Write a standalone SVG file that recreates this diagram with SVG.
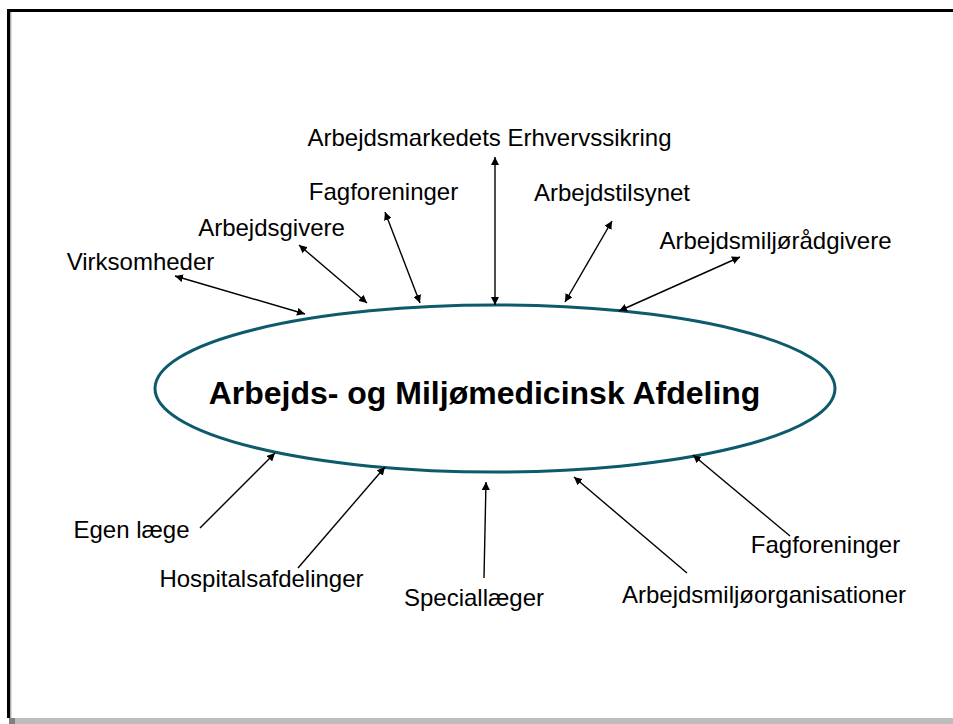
<svg xmlns="http://www.w3.org/2000/svg" width="953" height="724" viewBox="0 0 953 724">
<style>
.lbl{font-family:"Liberation Sans",Arial,sans-serif;font-size:24px;fill:#000;text-anchor:middle}
.title{font-family:"Liberation Sans",Arial,sans-serif;font-size:32px;font-weight:bold;fill:#000;text-anchor:middle}
.conn line{stroke:#000;stroke-width:1.4;fill:none}
.one{marker-end:url(#ah)}
.two{marker-start:url(#ah);marker-end:url(#ah)}
</style>
<defs>
<marker id="ah" viewBox="0 0 10 10" refX="10" refY="5" markerWidth="8" markerHeight="8" markerUnits="userSpaceOnUse" orient="auto-start-reverse">
<path d="M0,0 L10,5 L0,10 Z" fill="#000"/>
</marker>
</defs>
<rect width="953" height="724" fill="#fff"/>
<g id="frame">
<rect x="9" y="718" width="944" height="6" fill="#bdbdbd"/>
<rect x="9" y="718" width="6" height="6" fill="#808080"/>
<line x1="10.8" y1="12" x2="10.8" y2="718" stroke="#8a8a8a" stroke-width="1"/>
<line x1="7" y1="10.5" x2="953" y2="10.5" stroke="#000" stroke-width="3"/>
<line x1="8.5" y1="9" x2="8.5" y2="718" stroke="#000" stroke-width="3"/>
</g>
<g id="center">
<ellipse cx="495" cy="388.5" rx="340" ry="83.5" fill="#fff" stroke="#0d5a6c" stroke-width="3"/>
<text class="title" x="484.5" y="404">Arbejds- og Miljømedicinsk Afdeling</text>
</g>
<g class="conn" id="connectors">
<line class="two" x1="175" y1="276" x2="305" y2="314"/>
<line class="two" x1="299" y1="245" x2="367" y2="303"/>
<line class="two" x1="385" y1="212" x2="420" y2="303"/>
<line class="two" x1="495" y1="157" x2="495" y2="305"/>
<line class="two" x1="612" y1="221" x2="565" y2="302"/>
<line class="two" x1="740" y1="257" x2="619" y2="311"/>
<line class="one" x1="200" y1="528" x2="275" y2="453"/>
<line class="one" x1="298" y1="568" x2="385" y2="467"/>
<line class="one" x1="484" y1="578" x2="486" y2="482"/>
<line class="one" x1="687" y1="573" x2="574" y2="477"/>
<line class="one" x1="790" y1="536" x2="693" y2="455"/>
</g>
<g id="n-aes"><text class="lbl" x="489.5" y="146">Arbejdsmarkedets Erhvervssikring</text></g>
<g id="n-fag1"><text class="lbl" x="383.5" y="200">Fagforeninger</text></g>
<g id="n-tilsyn"><text class="lbl" x="612" y="201">Arbejdstilsynet</text></g>
<g id="n-givere"><text class="lbl" x="271.5" y="236">Arbejdsgivere</text></g>
<g id="n-raadgivere"><text class="lbl" x="775.5" y="249">Arbejdsmiljørådgivere</text></g>
<g id="n-virk"><text class="lbl" x="140.5" y="270">Virksomheder</text></g>
<g id="n-egen"><text class="lbl" x="131.5" y="538">Egen læge</text></g>
<g id="n-hosp"><text class="lbl" x="261.5" y="587">Hospitalsafdelinger</text></g>
<g id="n-spec"><text class="lbl" x="474" y="606">Speciallæger</text></g>
<g id="n-org"><text class="lbl" x="764" y="603">Arbejdsmiljøorganisationer</text></g>
<g id="n-fag2"><text class="lbl" x="825.5" y="553">Fagforeninger</text></g>
</svg>
